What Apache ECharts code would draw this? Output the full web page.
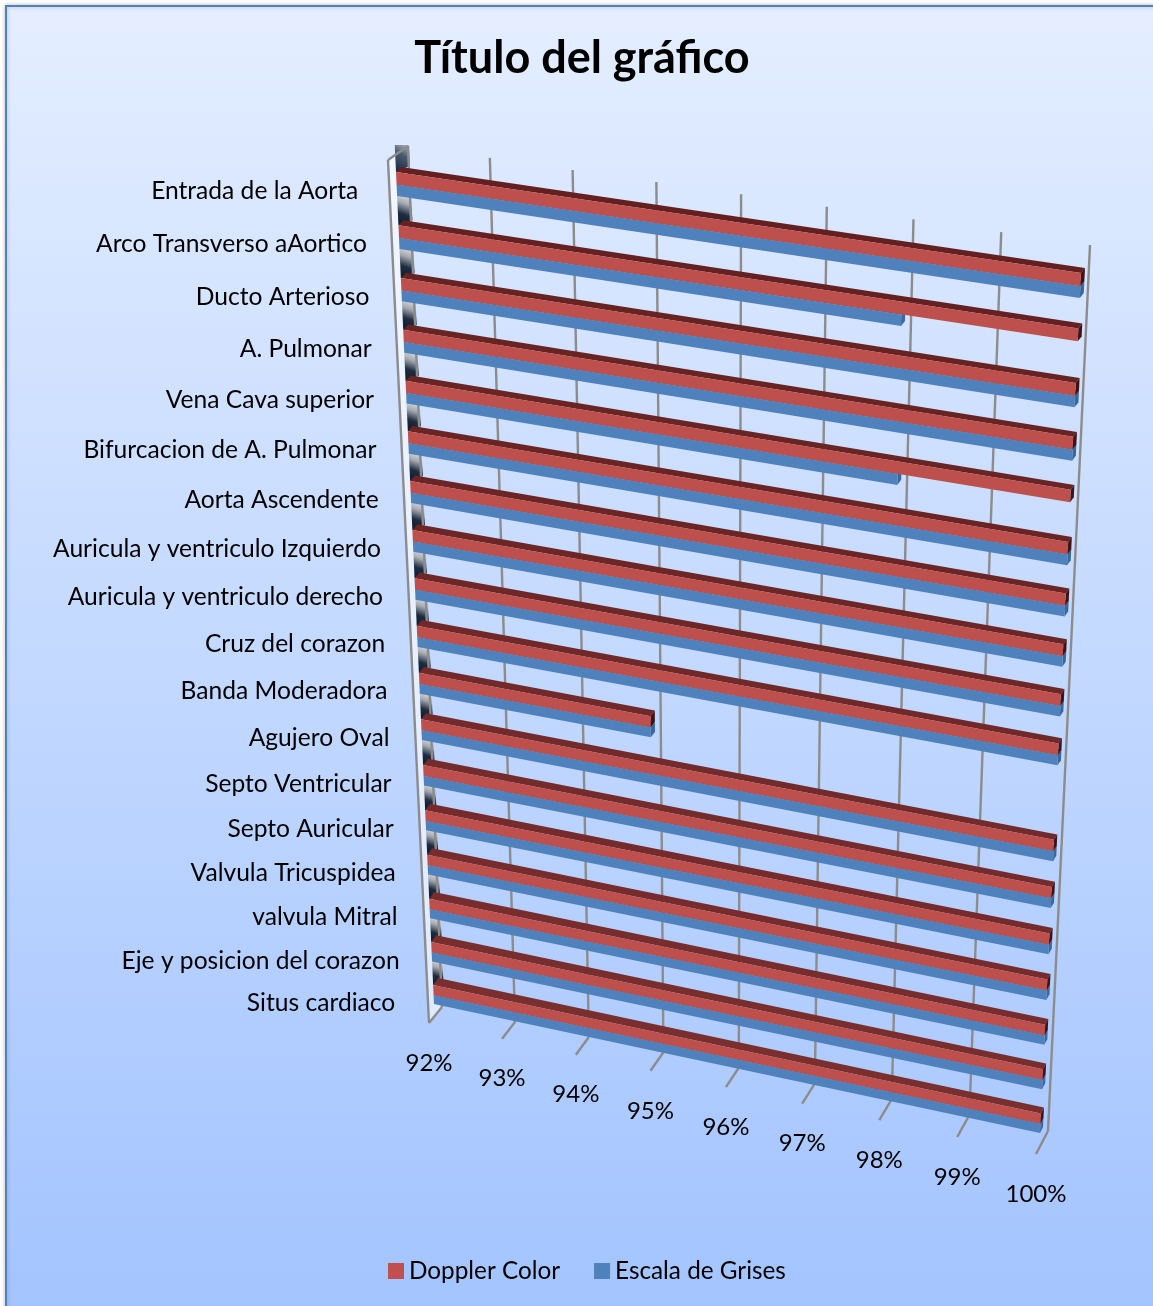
<!DOCTYPE html>
<html><head><meta charset="utf-8">
<style>html,body{margin:0;padding:0;background:#fff}#c{width:1153px;height:1306px}</style>
<script src="https://cdn.jsdelivr.net/npm/echarts@6/dist/echarts.min.js"></script>
</head><body><div id="c"></div>
<script>
const categories = ["Entrada de la Aorta ","Arco Transverso aAortico","Ducto Arterioso","A. Pulmonar","Vena Cava superior","Bifurcacion de A. Pulmonar","Aorta Ascendente","Auricula y ventriculo Izquierdo","Auricula y ventriculo derecho","Cruz del corazon","Banda Moderadora","Agujero Oval","Septo Ventricular","Septo Auricular","Valvula Tricuspidea","valvula Mitral","Eje y posicion del corazon","Situs cardiaco "];
const dopplerColor = [100,100,100,100,100,100,100,100,100,100,95,100,100,100,100,100,100,100];
const escalaGrises = [100,98,100,100,98,100,100,100,100,100,95,100,100,100,100,100,100,100];
const xTicks = [92,93,94,95,96,97,98,99,100];

// perspective planes: unit square -> picture quad (top-left, top-right, bottom-right, bottom-left)
function quad(p0,p1,p2,p3){
  const [x0,y0]=p0,[x1,y1]=p1,[x2,y2]=p2,[x3,y3]=p3;
  const dx1=x1-x2,dx2=x3-x2,sx=x0-x1+x2-x3,dy1=y1-y2,dy2=y3-y2,sy=y0-y1+y2-y3;
  const den=dx1*dy2-dx2*dy1, g=(sx*dy2-dx2*sy)/den, h=(dx1*sy-sx*dy1)/den;
  const a=x1-x0+g*x1,b=x3-x0+h*x3,d=y1-y0+g*y1,e=y3-y0+h*y3;
  return (u,v)=>{const w=g*u+h*v+1;return [(a*u+b*v+x0)/w,(d*u+e*v+y0)/w];};
}
const barFront = quad([396,172],[1081,273],[1040,1133],[434,1004]);
const barBack  = quad([401,167],[1085,268],[1043,1127],[439,997]);
const wallBack = quad([408,146],[1090,245],[1048,1131],[442,1007]);
const wallFront= quad([388,160],[1073,265],[1036,1154],[429,1023]);
const R0=0.275,R1=17.725,HALF=0.225,MID=0.01;
const s=r=>(r-R0)/(R1-R0);

function uOf(params,api,val){const c=params.coordSys;return (api.coord([val,0])[0]-c.x)/c.width;}
function rOf(params,api,i){const c=params.coordSys;return (api.coord([xTicks[0],i])[1]-c.y)/c.height*categories.length;}
function poly(pts,fill,z2){return {type:'polygon',shape:{points:pts},style:{fill:fill},z2:z2||0};}

function barRender(top,bottom,cols){
  return function(params,api){
    const i=api.value(1), u=uOf(params,api,api.value(0)), r=rOf(params,api,i), u0=uOf(params,api,xTicks[0]);
    const r1=r+top,r2=r+bottom,t=i/17;
    const F=(a,b)=>barFront(a,s(b)),B=(a,b)=>barBack(a,s(b));
    const mix=(c1,c2)=>{const h=x=>[1,3,5].map(k=>parseInt(x.substr(k,2),16));const A=h(c1),C=h(c2);return 'rgb('+A.map((q,k)=>Math.round(q+(C[k]-q)*t)).join(',')+')';};
    return {type:'group',children:[
      poly([B(u0,r1),B(u,r1),F(u,r1),F(u0,r1)],mix(cols.topA,cols.topB)),
      poly([F(u,r1),B(u,r1),B(u,r2),F(u,r2)],cols.side),
      poly([F(u0,r1),F(u,r1),F(u,r2),F(u0,r2)],cols.front)
    ]};
  };
}

const option={
  animation:false,
  graphic:{elements:[{type:'rect',z:-10,shape:{x:6,y:6,width:1300,height:1500},
    style:{fill:new echarts.graphic.LinearGradient(0,0,0,1306,[{offset:0,color:'#e4eeff'},{offset:1,color:'#a3c4ff'}],true),stroke:'#4f81bd',lineWidth:2,shadowBlur:4,shadowColor:'rgba(0,0,0,0.25)'}}]},
  title:{text:'Título del gráfico',left:577,top:31,textAlign:'center',textStyle:{fontFamily:'Lato',fontWeight:'bold',fontSize:45,color:'#000'}},
  legend:{left:383,top:1254,itemWidth:16,itemHeight:16,itemGap:34,icon:'rect',selectedMode:false,
    data:['Doppler Color','Escala de Grises'],textStyle:{fontFamily:'Lato',fontSize:24.3,color:'#000'}},
  grid:{left:396,top:172,width:685,height:960},
  xAxis:{type:'value',min:92,max:100,interval:1,show:false},
  yAxis:{type:'category',data:categories,inverse:true,show:false},
  series:[
    {type:'custom',name:'walls',silent:true,data:categories.map((c,i)=>[xTicks[0],i]),clip:false,encode:{x:0,y:1},z:2,
     renderItem(params,api){
       const i=api.value(1),r=rOf(params,api,i),u0=uOf(params,api,xTicks[0]),kids=[];
       const t=i/17,dx=14-4*t;
       if(i===0){
         kids.push(poly([wallFront(0,0),wallBack(0,0),wallBack(0,1),wallFront(0,1)],'rgba(255,255,255,0.6)'));
         const a=barFront(u0,s(r-HALF)),b=barFront(u0,s(r-HALF-0.5));
         kids.push({type:'polygon',shape:{points:[a,[a[0]+dx,a[1]-6],[b[0]+dx,b[1]],[b[0],b[1]]]},style:{fill:new echarts.graphic.LinearGradient(1,0,0,1,[{offset:0,color:'#b8bcc2'},{offset:0.4,color:'#4a5a6e'},{offset:1,color:'#14263f'}])}});
       }
       if(i<17){
         const a=barFront(u0,s(r+HALF-0.06)),b=barFront(u0,s(r+1-HALF));
         kids.push({type:'polygon',shape:{points:[a,[a[0]+dx,a[1]],[b[0]+dx,b[1]-5],b]},
           style:{fill:new echarts.graphic.LinearGradient(0.85,0,0.1,1,[{offset:0,color:'#eef0f4'},{offset:0.35,color:'#a4a9b0'},{offset:0.65,color:'#1e2c40'},{offset:1,color:'#0e1a2c'}])}});
       }
       return {type:'group',children:kids};
     }},
    {type:'custom',name:'gridlines',silent:true,data:xTicks.map(v=>[v,0]),clip:false,encode:{x:0,y:1},z:2,
     renderItem(params,api){
       const v=api.value(0),u=uOf(params,api,v);
       const ln=(a,b)=>({type:'line',shape:{x1:a[0],y1:a[1],x2:b[0],y2:b[1]},style:{stroke:'#8c8c8c',lineWidth:2.4}});
       const kids=[ln(wallBack(u,0),wallBack(u,1)),ln(wallBack(u,1),wallFront(u,1))];
       if(v===xTicks[0]) kids.push(ln(wallFront(0,0),wallFront(0,1)),ln(wallFront(0,0),wallBack(0,0)));
       return {type:'group',children:kids};
     }},
    {type:'custom',name:'Escala de Grises',data:escalaGrises.map((v,i)=>[v,i]),clip:false,encode:{x:0,y:1},z:3,
     itemStyle:{color:'#4f81bd'},
     renderItem:barRender(MID,HALF,{topA:'#2f4f75',topB:'#2f4f75',side:'#3a689c',front:'#4f81bd'})},
    {type:'custom',name:'Doppler Color',data:dopplerColor.map((v,i)=>[v,i]),clip:false,encode:{x:0,y:1},z:4,
     itemStyle:{color:'#c0504d'},
     renderItem:barRender(-HALF,MID,{topA:'#642020',topB:'#7a2f2f',side:'#3f1414',front:'#bd4f4c'})},
    {type:'custom',name:'categoryLabels',silent:true,data:categories.map((c,i)=>[xTicks[0],i]),clip:false,encode:{x:0,y:1},z:5,
     renderItem(params,api){
       const i=api.value(1),r=rOf(params,api,i),p=barFront(uOf(params,api,xTicks[0]),s(r));
       return {type:'text',style:{text:categories[i],x:p[0]-32,y:p[1]+7+2*i/17,align:'right',verticalAlign:'middle',fontFamily:'Lato',fontSize:24.6,fill:'#000'}};
     }},
    {type:'custom',name:'valueLabels',silent:true,data:xTicks.map(v=>[v,0]),clip:false,encode:{x:0,y:1},z:5,
     renderItem(params,api){
       const v=api.value(0),p=wallFront(uOf(params,api,v),1);
       return {type:'text',style:{text:v+'%',x:p[0],y:p[1]+40,align:'center',verticalAlign:'middle',fontFamily:'Lato',fontSize:24,fill:'#000'}};
     }}
  ]
};
const chart=echarts.init(document.getElementById('c'),null,{width:1153,height:1306,renderer:'canvas'});
chart.setOption(option);
</script></body></html>
